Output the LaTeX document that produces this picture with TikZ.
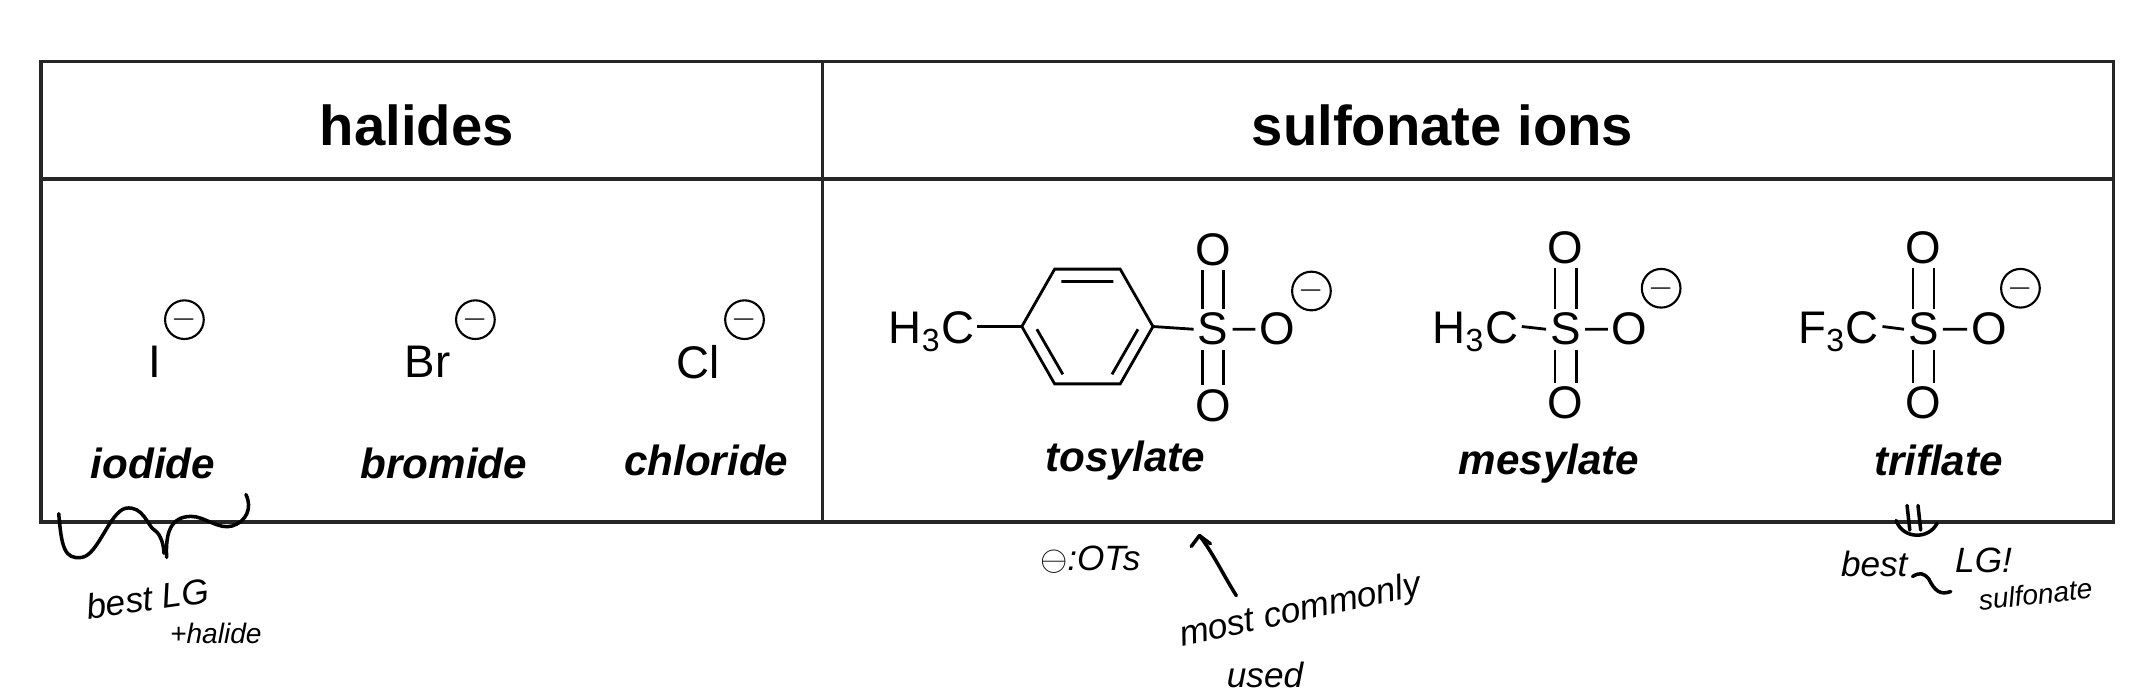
\documentclass[tikz,border=0pt]{standalone}
\usepackage{fontspec}
\setmainfont{Liberation Sans}
\begin{document}
\begin{tikzpicture}[x=0.01366cm,y=-0.01366cm,
  hdr/.style={font=\fontsize{16}{18}\selectfont\bfseries},
  lbl/.style={font=\fontsize{12}{14}\selectfont\bfseries\itshape},
  atom/.style={font=\fontsize{13}{15}\selectfont,inner sep=1pt},
  chg/.style={draw,circle,minimum size=11pt,inner sep=0pt,line width=0.6pt,font=\fontsize{9}{9}\selectfont},
  bond/.style={line width=0.8pt},
  hand/.style={line width=1pt,line cap=round,line join=round},
  htxt/.style={font=\fontsize{10}{12}\selectfont\itshape,inner sep=1pt}]
\useasboundingbox (0,0) rectangle (1568,507);
% table
\draw[line width=1pt,black!85] (30,45) rectangle (1547,382);
\draw[line width=1pt,black!85] (30,131) -- (1547,131) (602,45) -- (602,382);
\node[hdr] (h1) at (305,92) {halides};
\node[hdr] (h2) at (1056,92) {sulfonate ions};
% halides
\node[atom] (I) at (113,265) {I};
\node[chg] (cI) at (135,234) {$-$};
\node[atom] (Br) at (313,265) {Br};
\node[chg] (cBr) at (348,234) {$-$};
\node[atom] (Cl) at (511,265) {Cl};
\node[chg] (cCl) at (545,234) {$-$};
\node[lbl] (l1) at (112,339) {iodide};
\node[lbl] (l2) at (325,339) {bromide};
\node[lbl] (l3) at (517,337) {chloride};
\node[lbl] (l4) at (824,337) {tosylate};
\node[lbl] (l5) at (1134,339) {mesylate};
\node[lbl] (l6) at (1419,337) {triflate};
% tosylate
\node[atom] (tC) at (682,243) {H\textsubscript{3}C};
\coordinate (r1) at (748,239); \coordinate (r2) at (772,197); \coordinate (r3) at (820,197);
\coordinate (r4) at (844,239); \coordinate (r5) at (820,281); \coordinate (r6) at (772,281);
\draw[bond] (r1)--(r2)--(r3)--(r4)--(r5)--(r6)--cycle;
\draw[bond] (777,206)--(815,206) (833,241)--(814,274) (759,241)--(778,274);
\draw[bond] (715,239) -- (r1);
\node[atom] (tS) at (888,241) {S};
\node[atom] (tO1) at (888,183) {O};
\node[atom] (tO2) at (888,297) {O};
\node[atom] (tO3) at (935,241) {O};
\node[chg] (ct) at (960,213) {$-$};
\draw[bond] (r4) -- (tS.west) (tS.east) -- (tO3.west);
\draw[bond] ([xshift=-3]tS.north) -- ([xshift=-3]tO1.south) ([xshift=3]tS.north) -- ([xshift=3]tO1.south);
\draw[bond] ([xshift=-3]tS.south) -- ([xshift=-3]tO2.north) ([xshift=3]tS.south) -- ([xshift=3]tO2.north);
% mesylate
\node[atom] (mC) at (1080,243) {H\textsubscript{3}C};
\node[atom] (mS) at (1146,241) {S};
\node[atom] (mO1) at (1146,181) {O};
\node[atom] (mO2) at (1146,295) {O};
\node[atom] (mO3) at (1193,241) {O};
\node[chg] (cm) at (1216,211) {$-$};
\draw[bond] (1114,239) -- (mS.west) (mS.east) -- (mO3.west);
\draw[bond] ([xshift=-3]mS.north) -- ([xshift=-3]mO1.south) ([xshift=3]mS.north) -- ([xshift=3]mO1.south);
\draw[bond] ([xshift=-3]mS.south) -- ([xshift=-3]mO2.north) ([xshift=3]mS.south) -- ([xshift=3]mO2.north);
% triflate
\node[atom] (fC) at (1346,243) {F\textsubscript{3}C};
\node[atom] (fS) at (1408,241) {S};
\node[atom] (fO1) at (1408,181) {O};
\node[atom] (fO2) at (1408,295) {O};
\node[atom] (fO3) at (1456,241) {O};
\node[chg] (cf) at (1479,211) {$-$};
\draw[bond] (1378,239) -- (fS.west) (fS.east) -- (fO3.west);
\draw[bond] ([xshift=-3]fS.north) -- ([xshift=-3]fO1.south) ([xshift=3]fS.north) -- ([xshift=3]fO1.south);
\draw[bond] ([xshift=-3]fS.south) -- ([xshift=-3]fO2.north) ([xshift=3]fS.south) -- ([xshift=3]fO2.north);
% handwriting
\draw[hand] (43,376) .. controls (45,400) and (47,410) .. (60,408)
  .. controls (72,406) and (80,375) .. (92,372) .. controls (105,370) and (108,385) .. (113,388)
  .. controls (118,391) and (120,400) .. (120,405);
\draw[hand] (122,408) .. controls (121,390) and (125,378) .. (140,378) .. controls (150,378) and (160,388) .. (170,385)
  .. controls (180,382) and (185,372) .. (180,362);
\node[htxt,rotate=8] (hw1) at (108,438) {best LG};
\node[htxt,font=\fontsize{8}{9}\selectfont\itshape] (hw2) at (158,464) {+halide};
\node[htxt] (hw3) at (798,410) {$\ominus$:OTs};
\coordinate (a1) at (905,436); \coordinate (a2) at (878,392);
\draw[hand] (a1) .. controls (895,420) and (888,405) .. (a2);
\draw[hand] (a2) -- (872,400) (a2) -- (886,398);
\node[htxt,rotate=12] (hw4) at (952,448) {most commonly};
\node[htxt] (hw5) at (926,494) {used};
\draw[hand] (1396,370) -- (1398,388) (1404,370) -- (1406,388);
\draw[hand] (1388,381) .. controls (1393,395) and (1412,395) .. (1418,383);
\node[htxt] (hw6a) at (1372,413) {best};
\node[htxt] (hw6b) at (1452,410) {LG!};
\draw[hand] (1400,422) .. controls (1405,419) and (1408,419) .. (1412,424) .. controls (1416,432) and (1420,436) .. (1428,433);
\node[htxt,font=\fontsize{8}{9}\selectfont\itshape,rotate=6] (hw7) at (1490,435) {sulfonate};
\end{tikzpicture}
\end{document}
